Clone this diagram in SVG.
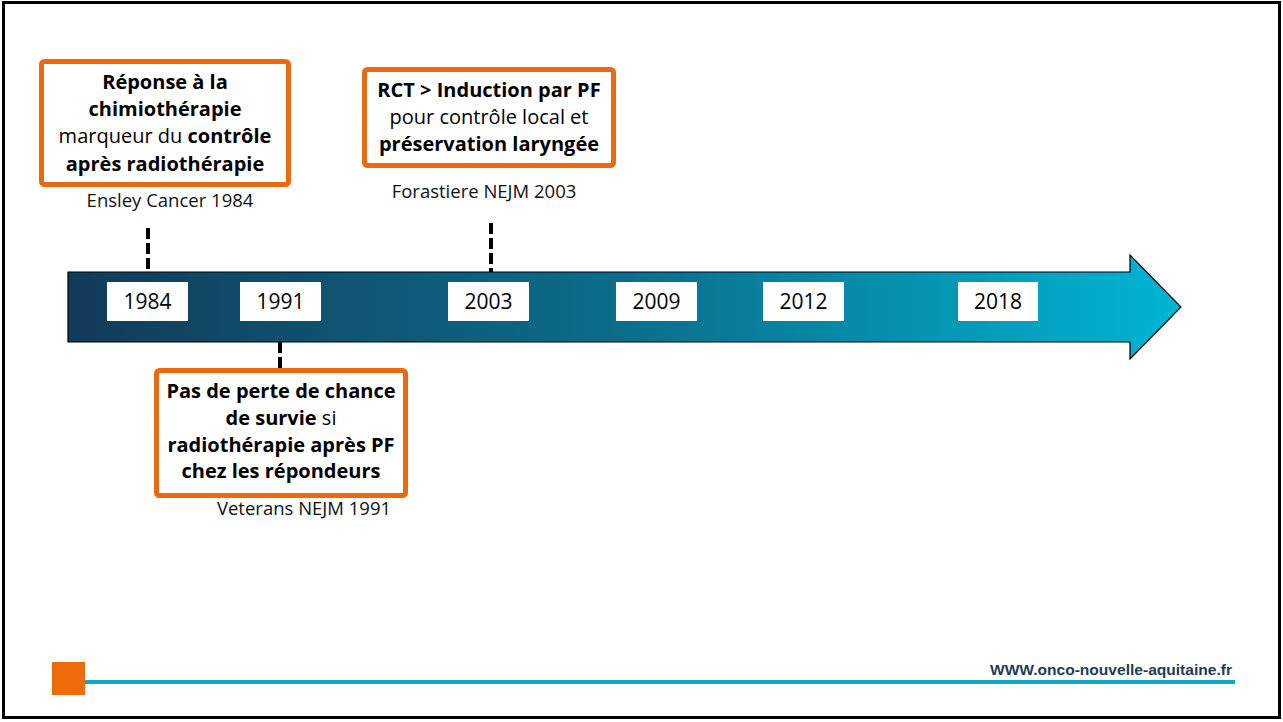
<svg xmlns="http://www.w3.org/2000/svg" width="1283" height="722" viewBox="0 0 1283 722">
  <defs>
    <linearGradient id="axisGrad" x1="68" y1="0" x2="1181" y2="0" gradientUnits="userSpaceOnUse">
      <stop offset="0" stop-color="#133a5a"/>
      <stop offset="0.5" stop-color="#0b6e8b"/>
      <stop offset="1" stop-color="#00b5d3"/>
    </linearGradient>
    <style>
      text { font-family: "Open Sans", "Noto Sans", "Liberation Sans", sans-serif; fill: #000; }
      .box { fill: #fff; stroke: #ec6a0f; stroke-width: 5; }
      .note { font-size: 20px; text-anchor: middle; }
      .b { font-weight: bold; }
      .ref { font-size: 18.5px; text-anchor: middle; fill: #111; }
      .year { fill: #fff; }
      .yeart { font-size: 21px; text-anchor: middle; }
      .dash { stroke: #000; stroke-width: 4; stroke-dasharray: 11 4; fill: none; }
    </style>
  </defs>

  <rect x="0" y="0" width="1283" height="722" fill="#fff"/>
  <rect x="3.5" y="2.5" width="1276" height="715" fill="none" stroke="#000" stroke-width="3"/>

  <g id="timeline-arrow">
    <polygon points="68,272 1130,272 1130,255 1181,307 1130,359 1130,342 68,342" fill="url(#axisGrad)" stroke="#000" stroke-width="1.2"/>
  </g>

  <g id="connectors">
    <line class="dash" x1="148" y1="228" x2="148" y2="272"/>
    <line class="dash" x1="491" y1="223" x2="491" y2="272"/>
    <line class="dash" x1="280" y1="342" x2="280" y2="368"/>
  </g>

  <g id="year-1984">
    <rect class="year" x="107" y="282" width="81" height="39"/>
    <text class="yeart" x="147.5" y="309">1984</text>
  </g>
  <g id="year-1991">
    <rect class="year" x="240" y="282" width="81" height="39"/>
    <text class="yeart" x="280.5" y="309">1991</text>
  </g>
  <g id="year-2003">
    <rect class="year" x="448" y="282" width="81" height="39"/>
    <text class="yeart" x="488.5" y="309">2003</text>
  </g>
  <g id="year-2009">
    <rect class="year" x="616" y="282" width="81" height="39"/>
    <text class="yeart" x="656.5" y="309">2009</text>
  </g>
  <g id="year-2012">
    <rect class="year" x="763" y="282" width="81" height="39"/>
    <text class="yeart" x="803.5" y="309">2012</text>
  </g>
  <g id="year-2018">
    <rect class="year" x="958" y="282" width="80" height="39"/>
    <text class="yeart" x="998" y="309">2018</text>
  </g>

  <g id="note-1984">
    <rect class="box" x="41.5" y="61.5" width="247" height="123" rx="3"/>
    <text class="note b" x="165" y="89">Réponse à la</text>
    <text class="note b" x="165" y="116">chimiothérapie</text>
    <text class="note" x="165" y="143">marqueur du <tspan class="b">contrôle</tspan></text>
    <text class="note b" x="165" y="171">après radiothérapie</text>
    <text class="ref" x="170" y="207">Ensley Cancer 1984</text>
  </g>

  <g id="note-2003">
    <rect class="box" x="364.5" y="69.5" width="249" height="96" rx="3"/>
    <text class="note b" x="489" y="97">RCT &gt; Induction par PF</text>
    <text class="note" x="489" y="124">pour contrôle local et</text>
    <text class="note b" x="489" y="151">préservation laryngée</text>
    <text class="ref" x="484" y="198">Forastiere NEJM 2003</text>
  </g>

  <g id="note-1991">
    <rect class="box" x="156.5" y="370.5" width="249" height="125" rx="3"/>
    <text class="note b" x="281" y="398">Pas de perte de chance</text>
    <text class="note" x="281" y="425"><tspan class="b">de survie</tspan> si</text>
    <text class="note b" x="281" y="452">radiothérapie après PF</text>
    <text class="note b" x="281" y="478">chez les répondeurs</text>
    <text class="ref" x="304" y="515">Veterans NEJM 1991</text>
  </g>

  <g id="footer">
    <line x1="85" y1="682" x2="1235" y2="682" stroke="#12a6c4" stroke-width="4"/>
    <rect x="52" y="662" width="33" height="33" fill="#ee6a0a"/>
    <text x="990" y="675" font-size="14" font-weight="bold" textLength="242" lengthAdjust="spacingAndGlyphs" style="fill:#1f3b58;font-family:'Liberation Sans',sans-serif">WWW.onco-nouvelle-aquitaine.fr</text>
  </g>
</svg>
